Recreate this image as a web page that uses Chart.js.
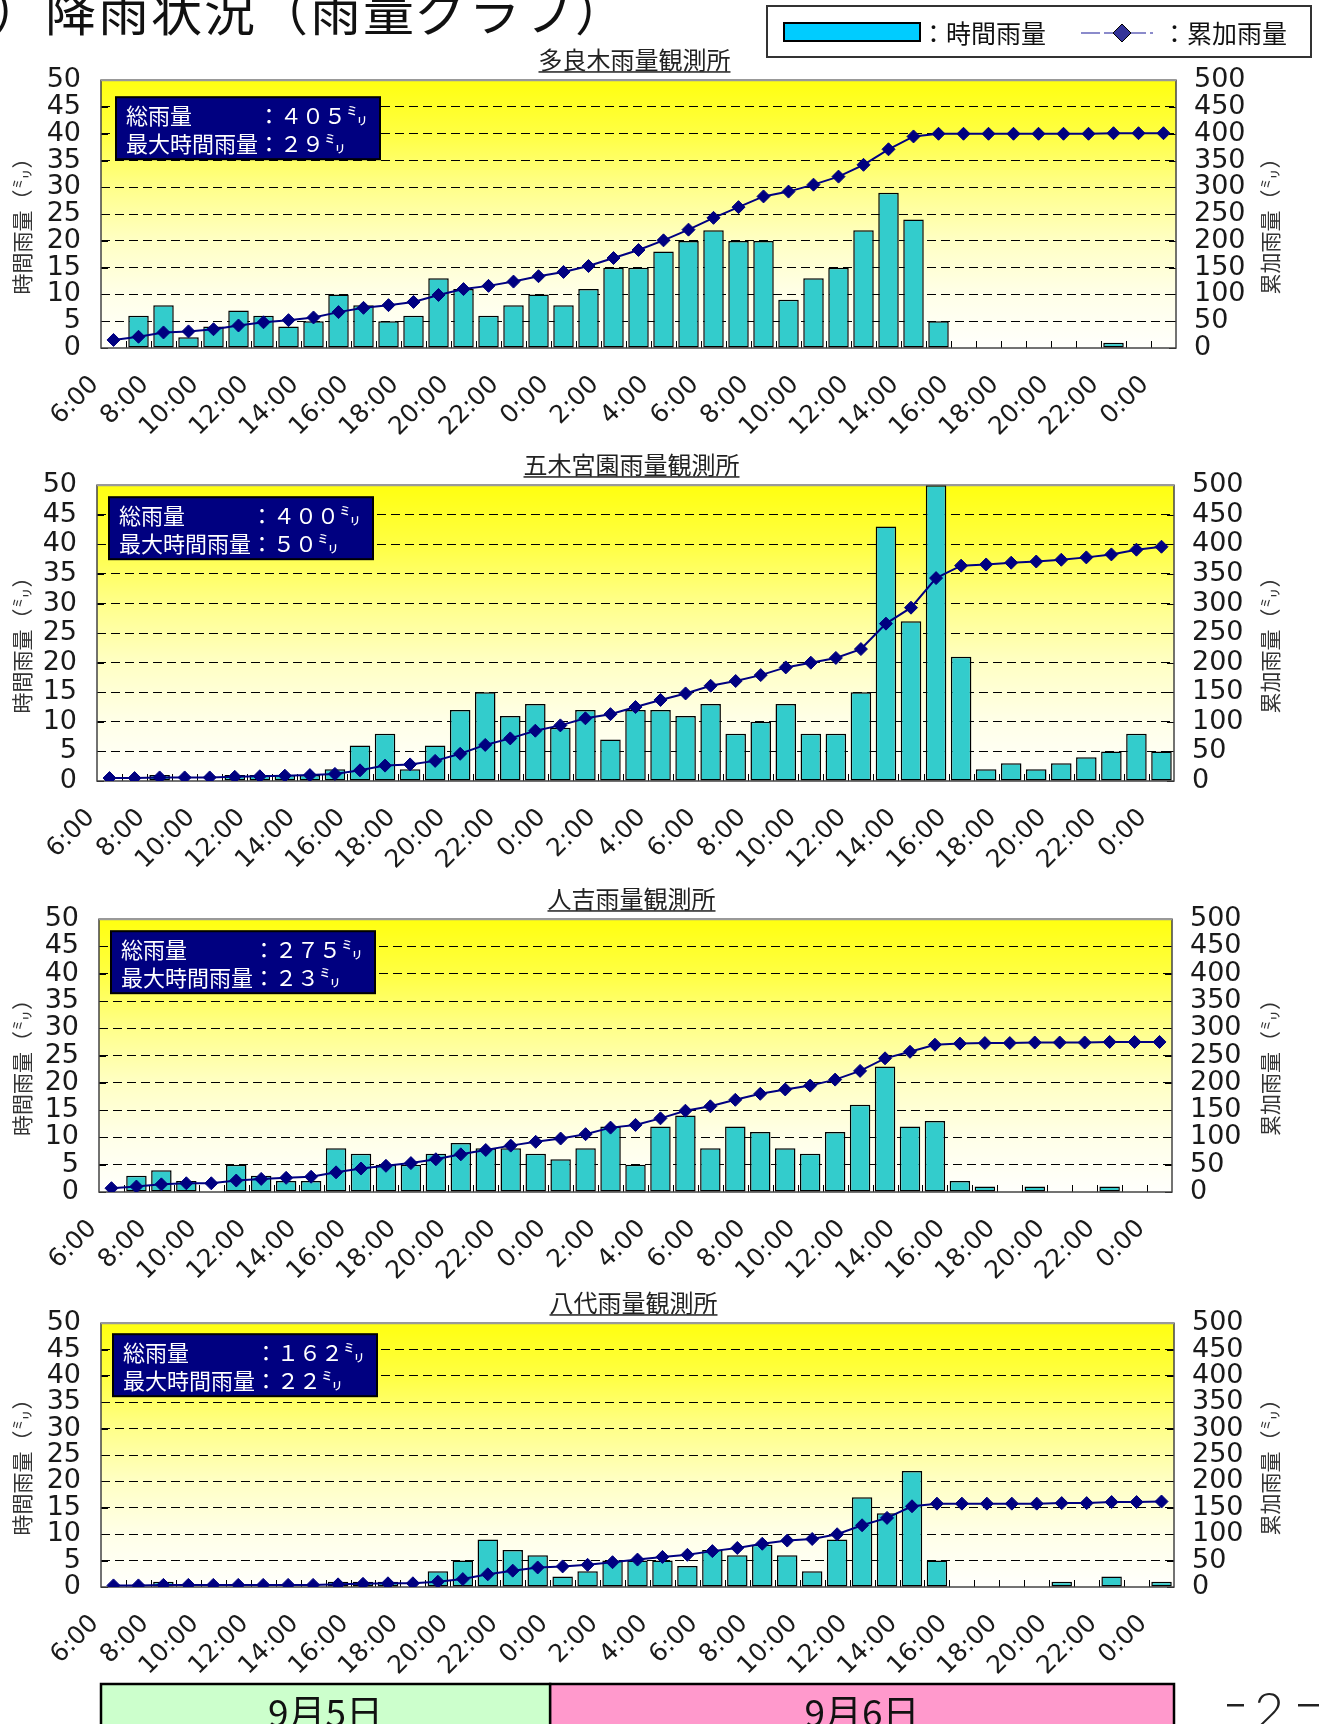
<!DOCTYPE html>
<html lang="ja">
<head>
<meta charset="utf-8">
<title>降雨状況（雨量グラフ）</title>
<script src="https://cdn.jsdelivr.net/npm/chart.js@4.4.1/dist/chart.umd.min.js"></script>
<style>
  html, body { margin: 0; padding: 0; background: #fff; }
  #page { position: relative; width: 1319px; height: 1724px; overflow: hidden; }
  #page canvas { position: absolute; left: 0; }
</style>
</head>
<body>
<div id="page">
  <canvas id="deco" width="1319" height="1724" style="top:0"></canvas>
  <canvas id="c1"></canvas>
  <canvas id="c2"></canvas>
  <canvas id="c3"></canvas>
  <canvas id="c4"></canvas>
</div>
<script>
// ── data ──────────────────────────────────────────────────────────────────────
// one category per hour; tick label = hour at the left edge of the category
const hourLabels = [
  '6:00','7:00','8:00','9:00','10:00','11:00','12:00','13:00','14:00','15:00',
  '16:00','17:00','18:00','19:00','20:00','21:00','22:00','23:00','0:00','1:00',
  '2:00','3:00','4:00','5:00','6:00','7:00','8:00','9:00','10:00','11:00',
  '12:00','13:00','14:00','15:00','16:00','17:00','18:00','19:00','20:00','21:00',
  '22:00','23:00','0:00'
];

const stationNames = ['多良木雨量観測所', '五木宮園雨量観測所', '人吉雨量観測所', '八代雨量観測所'];
const stationSums  = [405, 400, 275, 162];   // 総雨量 (mm)
const stationMaxes = [29, 50, 23, 22];       // 最大時間雨量 (mm)

const taragiHourly = [0,6,8,2,4,7,6,4,5,10,8,5,6,13,11,6,8,10,8,11,15,15,18,20,22,20,20,9,13,15,22,29,24,5,0,0,0,0,0,0,1,0,0];
const taragiTotal  = [15,21,29,31,35,42,48,52,57,67,75,80,86,99,110,116,124,134,142,153,168,183,201,221,243,263,283,292,305,320,342,371,395,400,400,400,400,400,400,400,401,401,401];

const itsukiHourly = [0,0,1,0,0,1,1,1,1,2,6,8,2,6,12,15,11,13,9,12,7,12,12,11,13,8,10,13,8,8,15,43,27,50,21,2,3,2,3,4,5,8,5];
const itsukiTotal  = [5,5,6,6,6,7,8,9,10,12,18,26,28,34,46,61,72,85,94,106,113,125,137,148,161,169,179,192,200,208,223,266,293,343,364,366,369,371,374,378,383,391,396];

const hitoyoshiHourly = [0,3,4,2,0,5,3,2,2,8,7,5,5,7,9,8,8,7,6,8,12,5,12,14,8,12,11,8,7,11,16,23,12,13,2,1,0,1,0,0,1,0,0];
const hitoyoshiTotal  = [7,10,14,16,16,21,24,26,28,36,43,48,53,60,69,77,85,92,98,106,118,123,135,149,157,169,180,188,195,206,222,245,257,270,272,273,273,274,274,274,275,275,275];

const yatsushiroHourly = [0,0,1,0,0,0,0,0,0,1,1,1,0,3,5,9,7,6,2,3,5,5,5,4,7,6,8,6,3,9,17,14,22,5,0,0,0,0,1,0,2,0,1];
const yatsushiroTotal  = [3,3,4,4,4,4,4,4,4,5,6,7,7,10,15,24,31,37,39,42,47,52,57,61,68,74,82,88,91,100,117,131,153,158,158,158,158,158,159,159,161,161,162];

const hourlySeries = [taragiHourly, itsukiHourly, hitoyoshiHourly, yatsushiroHourly];
const totalSeries  = [taragiTotal, itsukiTotal, hitoyoshiTotal, yatsushiroTotal];

// date band under the last chart (category index ranges)
const dayLabels = ['9月5日', '9月6日'];
const dayStarts = [0, 18];
const dayEnds   = [18, 43];
const dayColors = ['#CCFFCC', '#FF99CC'];

// ── layout ────────────────────────────────────────────────────────────────────
const PAGE_W = 1319, PAGE_H = 1724, PAD_TOP = 36;
const frames = [
  { left: 101, right: 1176, top: 80,   bottom: 348,  box: [15, 17] },
  { left: 97,  right: 1174, top: 485,  bottom: 781,  box: [12, 12] },
  { left: 99,  right: 1172, top: 919,  bottom: 1192, box: [12, 12] },
  { left: 101, right: 1174, top: 1323, bottom: 1587, box: [12, 11] },
];

const CJK = '"Noto Sans CJK JP", sans-serif';
const toZen = n => String(n).replace(/[0-9]/g, d => String.fromCharCode(d.charCodeAt(0) + 0xFEE0));

// ── page decoration (title, legend, page number) ─────────────────────────────
function drawPage() {
  const ctx = document.getElementById('deco').getContext('2d');
  ctx.fillStyle = '#111';
  ctx.font = '51px ' + CJK;
  ctx.textBaseline = 'alphabetic';
  ctx.letterSpacing = '2px';
  ctx.fillText('）降雨状況（雨量グラフ）', -8, 31);
  ctx.letterSpacing = '0px';

  // legend
  ctx.lineWidth = 2;
  ctx.strokeStyle = '#333';
  ctx.fillStyle = '#fff';
  ctx.fillRect(767, 6, 544, 51);
  ctx.strokeRect(767, 6, 544, 51);
  ctx.fillStyle = '#00CCFF';
  ctx.fillRect(784, 23, 136, 18);
  ctx.strokeStyle = '#000';
  ctx.strokeRect(784, 23, 136, 18);
  ctx.fillStyle = '#111';
  ctx.font = '25px ' + CJK;
  ctx.textBaseline = 'middle';
  ctx.fillText('：時間雨量', 921, 33);
  ctx.fillText('：累加雨量', 1162, 33);
  ctx.save();
  ctx.strokeStyle = '#6666BB';
  ctx.lineWidth = 1.5;
  ctx.setLineDash([19, 4]);
  ctx.beginPath(); ctx.moveTo(1081, 33); ctx.lineTo(1153, 33); ctx.stroke();
  ctx.restore();
  ctx.beginPath();
  ctx.moveTo(1122, 24); ctx.lineTo(1131, 33); ctx.lineTo(1122, 42); ctx.lineTo(1113, 33); ctx.closePath();
  ctx.fillStyle = '#333399'; ctx.fill();
  ctx.lineWidth = 1; ctx.strokeStyle = '#000'; ctx.stroke();

  // page number
  ctx.fillStyle = '#222';
  ctx.font = '300 52px Lato, "DejaVu Sans", sans-serif';
  ctx.textBaseline = 'alphabetic';
  ctx.fillText('2', 1254, 1729);
  ctx.fillRect(1227, 1704, 17, 2.5);
  ctx.fillRect(1298, 1704, 21, 2.5);
}

// ── per-chart drawing: plot background, titles, border, info box ─────────────
const decorPlugin = {
  id: 'decor',
  beforeDraw(chart, args, o) {
    const { ctx, chartArea: a } = chart;
    ctx.save();
    const g = ctx.createLinearGradient(0, a.top, 0, a.bottom);
    g.addColorStop(0, '#FFFF10');
    g.addColorStop(0.2, '#FFFF42');
    g.addColorStop(0.4, '#FFFF8A');
    g.addColorStop(0.6, '#FFFFC4');
    g.addColorStop(0.8, '#FFFFE8');
    g.addColorStop(1, '#FFFFFC');
    ctx.fillStyle = g;
    ctx.fillRect(a.left, a.top, a.width, a.height);

    // station name, underlined
    ctx.font = '24px ' + CJK;
    ctx.fillStyle = '#222';
    ctx.textAlign = 'center';
    ctx.textBaseline = 'alphabetic';
    const cx = (a.left + a.right) / 2 - 4, ty = a.top - 11;
    ctx.fillText(o.name, cx, ty);
    const tw = ctx.measureText(o.name).width;
    ctx.fillRect(cx - tw / 2, ty + 2, tw, 1.5);

    // axis titles, both read bottom to top
    ctx.font = '21px ' + CJK;
    ctx.fillStyle = '#333';
    ctx.textBaseline = 'middle';
    const my = (a.top + a.bottom) / 2 + 7;
    [[22, '時間雨量（㍉）'], [chart.width - 49, '累加雨量（㍉）']].forEach(([x, t]) => {
      ctx.save();
      ctx.translate(x, my);
      ctx.rotate(-Math.PI / 2);
      ctx.fillText(t, 0, 0);
      ctx.restore();
    });
    ctx.restore();
  },
  beforeDatasetsDraw(chart) {
    const { ctx, chartArea: a, scales: { x, y, y1 } } = chart;
    const n = x.getLabels().length, half = a.width / n / 2;
    ctx.save();
    ctx.strokeStyle = '#000';
    ctx.lineWidth = 1;
    ctx.beginPath();
    for (let k = 1; k < n; k++) {
      const px = Math.round(x.getPixelForValue(k) - half) + 0.5;
      ctx.moveTo(px, a.bottom); ctx.lineTo(px, a.bottom - 7);
    }
    y.ticks.forEach(t => {
      const py = Math.round(y.getPixelForValue(t.value)) + 0.5;
      ctx.moveTo(a.left, py); ctx.lineTo(a.left + 7, py);
    });
    y1.ticks.forEach(t => {
      const py = Math.round(y1.getPixelForValue(t.value)) + 0.5;
      ctx.moveTo(a.right, py); ctx.lineTo(a.right - 7, py);
    });
    ctx.stroke();
    ctx.lineWidth = 1.5;
    ctx.strokeStyle = '#444';
    ctx.strokeRect(a.left, a.top, a.width, a.height);
    ctx.lineWidth = 2;
    ctx.strokeStyle = '#9a9a9a';
    ctx.beginPath(); ctx.moveTo(a.left, a.top); ctx.lineTo(a.right, a.top); ctx.stroke();
    ctx.restore();
  },
  afterDatasetsDraw(chart, args, o) {
    const { ctx, chartArea: a } = chart;
    const bx = a.left + o.box[0], by = a.top + o.box[1];
    ctx.save();
    ctx.fillStyle = '#000080';
    ctx.fillRect(bx, by, 264, 62);
    ctx.strokeStyle = '#000';
    ctx.lineWidth = 2;
    ctx.strokeRect(bx, by, 264, 62);
    ctx.fillStyle = '#fff';
    ctx.font = '22px ' + CJK;
    ctx.textAlign = 'left';
    ctx.textBaseline = 'middle';
    ctx.fillText('総雨量　　　：' + toZen(o.sum) + '㍉', bx + 10, by + 18);
    ctx.fillText('最大時間雨量：' + toZen(o.max) + '㍉', bx + 10, by + 46);
    ctx.restore();
  },
  afterDraw(chart, args, o) {
    if (!o.days) return;
    const { ctx, chartArea: a, scales: { x } } = chart;
    const half = a.width / x.getLabels().length / 2;
    const top = a.bottom + 97;
    ctx.save();
    dayLabels.forEach((label, i) => {
      const x0 = x.getPixelForValue(dayStarts[i]) - half;
      const x1 = x.getPixelForValue(dayEnds[i] - 1) + half;
      ctx.fillStyle = dayColors[i];
      ctx.fillRect(x0, top, x1 - x0, 60);
      ctx.strokeStyle = '#000';
      ctx.lineWidth = 2.5;
      ctx.strokeRect(x0, top, x1 - x0, 60);
      ctx.fillStyle = '#111';
      ctx.font = '37px ' + CJK;
      ctx.textAlign = 'center';
      ctx.textBaseline = 'alphabetic';
      ctx.fillText(label, (x0 + x1) / 2, top + 43);
    });
    ctx.restore();
  }
};

function buildChart(idx) {
  const fr = frames[idx];
  const isLast = idx === frames.length - 1;
  const canvas = document.getElementById('c' + (idx + 1));
  const canvasTop = fr.top - PAD_TOP;
  const canvasBottom = isLast ? PAGE_H : fr.bottom + 100;
  canvas.width = PAGE_W;
  canvas.height = canvasBottom - canvasTop;
  canvas.style.top = canvasTop + 'px';
  const halfCat = (fr.right - fr.left) / hourLabels.length / 2;
  const tickFont = { family: '"DejaVu Sans", sans-serif', size: 27 };

  return new Chart(canvas, {
    type: 'bar',
    data: {
      labels: hourLabels,
      datasets: [
        {
          type: 'line',
          label: '累加雨量',
          data: totalSeries[idx],
          yAxisID: 'y1',
          order: 1,
          borderColor: '#000080',
          borderWidth: 2,
          tension: 0,
          pointStyle: 'rectRot',
          pointRadius: 6.5,
          pointBackgroundColor: '#000080',
          pointBorderColor: '#000080',
          pointBorderWidth: 1,
        },
        {
          type: 'bar',
          label: '時間雨量',
          data: hourlySeries[idx],
          yAxisID: 'y',
          order: 2,
          backgroundColor: '#33CCCC',
          borderColor: '#000',
          borderWidth: 1.5,
          borderSkipped: false,
          barPercentage: 0.82,
          categoryPercentage: 1,
        }
      ]
    },
    options: {
      responsive: false,
      animation: false,
      devicePixelRatio: 1,
      layout: { padding: { top: PAD_TOP, left: 0, right: 0, bottom: 0 } },
      plugins: {
        legend: { display: false },
        tooltip: { enabled: false },
        decor: {
          name: stationNames[idx], sum: stationSums[idx], max: stationMaxes[idx],
          box: fr.box, days: isLast
        }
      },
      scales: {
        x: {
          type: 'category',
          offset: true,
          grid: { display: false, drawTicks: false },
          border: { display: false },
          ticks: {
            autoSkip: false, minRotation: 45, maxRotation: 45,
            labelOffset: -halfCat - 6, padding: 22,
            color: '#1a1a1a', font: { family: '"DejaVu Sans", sans-serif', size: 25 },
            callback(value, i) { return i % 2 === 0 ? this.getLabelForValue(value) : ''; }
          },
          afterFit(s) { s.height = canvasBottom - fr.bottom; }
        },
        y: {
          position: 'left', min: 0, max: 50,
          ticks: { stepSize: 5, autoSkip: false, padding: 20, color: '#1a1a1a', font: tickFont },
          grid: {
            drawTicks: false, lineWidth: 1,
            color: c => (c.tick && (c.tick.value === 0 || c.tick.value === 50)) ? 'rgba(0,0,0,0)' : '#000'
          },
          border: { display: false, dash: [9, 5] },
          afterFit(s) { s.width = fr.left; }
        },
        y1: {
          position: 'right', min: 0, max: 500,
          ticks: { stepSize: 50, autoSkip: false, padding: 18, color: '#1a1a1a', font: tickFont },
          grid: { display: false, drawTicks: false },
          border: { display: false },
          afterFit(s) { s.width = PAGE_W - fr.right; }
        }
      }
    },
    plugins: [decorPlugin]
  });
}

Chart.defaults.font.family = '"DejaVu Sans", sans-serif';
Promise.all([
  document.fonts.load('22px "Noto Sans CJK JP"'),
  document.fonts.load('25px "DejaVu Sans"'),
  document.fonts.load('300 52px Lato')
]).catch(() => {}).then(() => {
  drawPage();
  frames.forEach((fr, i) => buildChart(i));
});
</script>
</body>
</html>
